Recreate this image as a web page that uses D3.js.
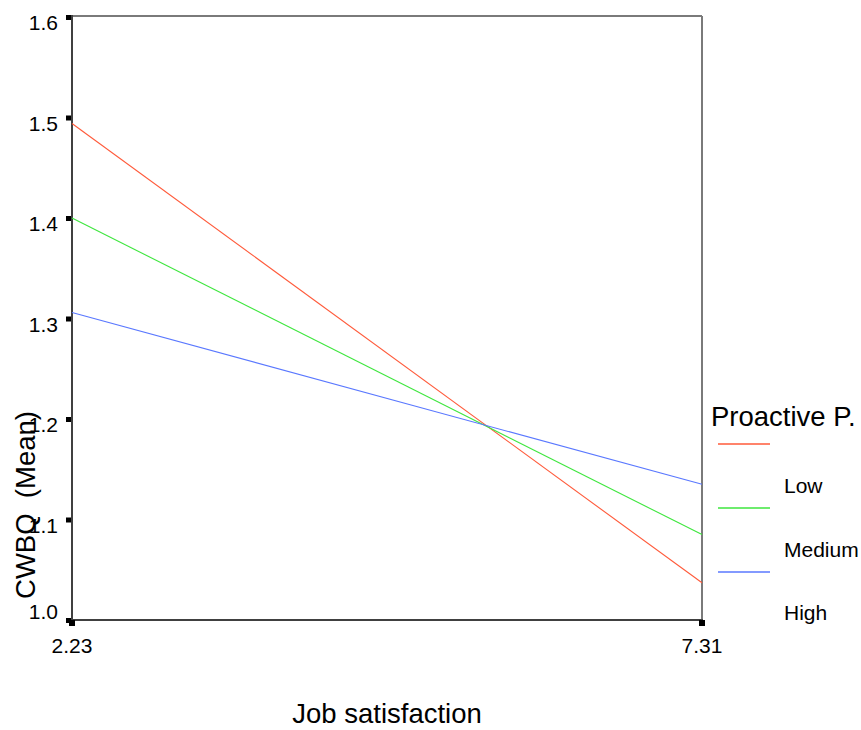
<!DOCTYPE html>
<html>
<head>
<meta charset="utf-8">
<script src="https://cdn.jsdelivr.net/npm/d3@7"></script>
<style>
  html, body { margin: 0; padding: 0; background: #fff; }
  svg { display: block; font-family: "Liberation Sans", Arial, sans-serif; }
</style>
</head>
<body>
<svg id="chart" width="861" height="730"></svg>
<script>
// ---- data ----
const xValues = [2.23, 7.31];
const xTickLabels = ["2.23", "7.31"];
const yTickValues = [1.0, 1.1, 1.2, 1.3, 1.4, 1.5, 1.6];
const seriesNames = ["Low", "Medium", "High"];
const lowValues = [1.494, 1.037];
const mediumValues = [1.400, 1.085];
const highValues = [1.306, 1.135];
const seriesColors = ["#ff5a3a", "#3ee63e", "#5a78ff"];
const legendTitle = "Proactive P.";
const xTitle = "Job satisfaction";
const yTitle = "CWBQ  (Mean)";

const seriesValues = [lowValues, mediumValues, highValues];

(function () {
const svg = d3.select("#chart");
const pLeft = 72, pRight = 702, pTop = 16, pBottom = 620;

const x = d3.scaleLinear().domain([xValues[0], xValues[1]]).range([pLeft, pRight]);
const y = d3.scaleLinear().domain([1.0, 1.6]).range([620, 17]);

// frame
svg.append("line").attr("x1", pLeft).attr("x2", pRight).attr("y1", pTop).attr("y2", pTop)
  .attr("stroke", "#7a7a7a").attr("stroke-width", 2);
svg.append("line").attr("x1", pRight).attr("x2", pRight).attr("y1", pTop).attr("y2", pBottom)
  .attr("stroke", "#7a7a7a").attr("stroke-width", 2);
svg.append("line").attr("x1", pLeft).attr("x2", pLeft).attr("y1", pTop - 1).attr("y2", pBottom + 1)
  .attr("stroke", "#404040").attr("stroke-width", 2);
svg.append("line").attr("x1", pLeft - 1).attr("x2", pRight + 1).attr("y1", pBottom).attr("y2", pBottom)
  .attr("stroke", "#404040").attr("stroke-width", 2);

// y ticks
const yAxis = svg.append("g");
yTickValues.forEach(v => {
  yAxis.append("rect").attr("x", pLeft - 6).attr("y", y(v) - 2).attr("width", 5).attr("height", 5).attr("fill", "#000");
  yAxis.append("text")
    .attr("x", 58)
    .attr("y", v === 1.0 ? y(v) - 1 : y(v) + 13)
    .attr("text-anchor", "end")
    .attr("font-size", 21)
    .attr("fill", "#000")
    .text(d3.format(".1f")(v));
});

// x ticks
const xAxis = svg.append("g");
xValues.forEach((v, i) => {
  xAxis.append("rect").attr("x", x(v) - 3).attr("y", pBottom).attr("width", 6).attr("height", 6).attr("fill", "#000");
  xAxis.append("text")
    .attr("x", x(v))
    .attr("y", 653)
    .attr("text-anchor", "middle")
    .attr("font-size", 21)
    .attr("fill", "#000")
    .text(xTickLabels[i]);
});

// lines
const line = d3.line().x((d, i) => x(xValues[i])).y(d => y(d));
seriesValues.forEach((vals, i) => {
  svg.append("path")
    .attr("d", line(vals))
    .attr("fill", "none")
    .attr("stroke", seriesColors[i])
    .attr("stroke-width", 1.1);
});

// axis titles
svg.append("text")
  .attr("x", 387).attr("y", 723)
  .attr("text-anchor", "middle")
  .attr("font-size", 27.5)
  .attr("fill", "#000")
  .text(xTitle);

svg.append("text")
  .attr("transform", "translate(35,505) rotate(-90)")
  .attr("text-anchor", "middle")
  .attr("font-size", 27.5)
  .attr("fill", "#000")
  .style("white-space", "pre")
  .text(yTitle);

// legend
svg.append("text")
  .attr("x", 711).attr("y", 426)
  .attr("font-size", 27.5)
  .attr("fill", "#000")
  .text(legendTitle);

seriesNames.forEach((name, i) => {
  const ly = 444 + i * 64;
  svg.append("line")
    .attr("x1", 718).attr("x2", 770)
    .attr("y1", ly).attr("y2", ly)
    .attr("stroke", seriesColors[i])
    .attr("stroke-opacity", 0.75)
    .attr("stroke-width", 2);
  svg.append("text")
    .attr("x", 784).attr("y", 493 + i * 63.5)
    .attr("font-size", 21)
    .attr("fill", "#000")
    .text(name);
});
})();
</script>
</body>
</html>
